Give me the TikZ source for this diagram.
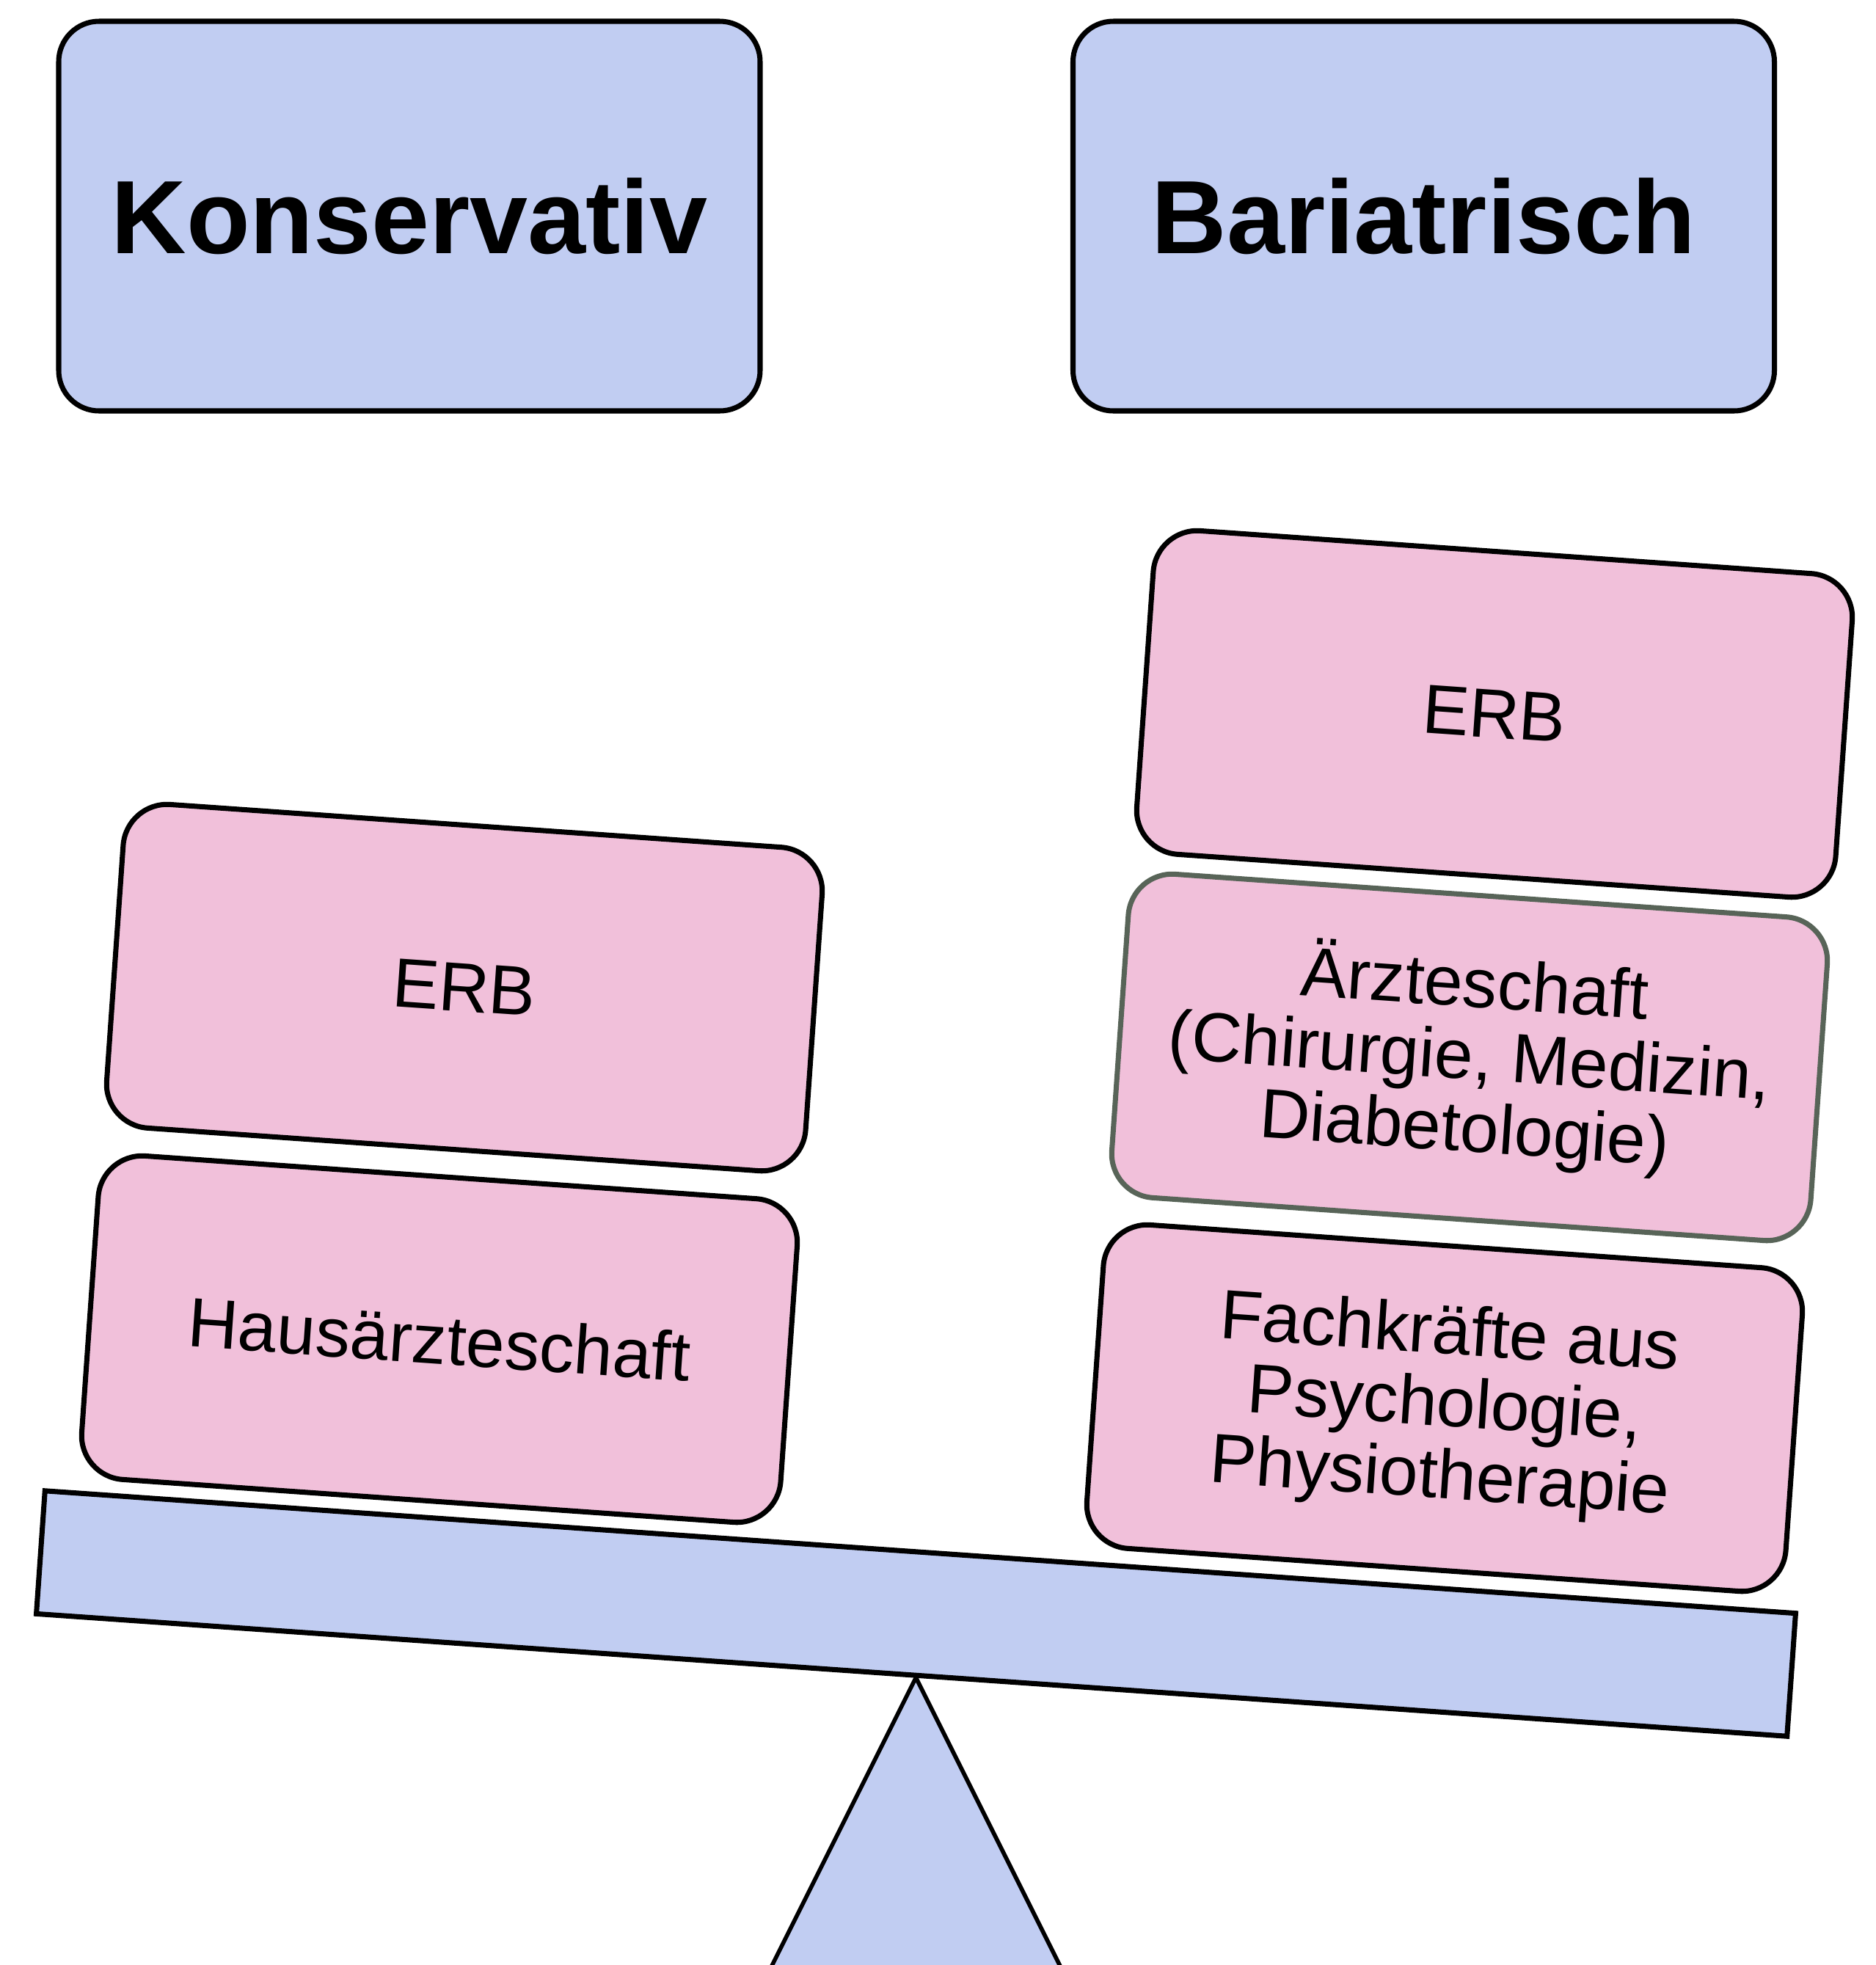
\documentclass[tikz,border=0pt]{standalone}
\usepackage{fontspec}
\setmainfont{Liberation Sans}
\usepackage{xcolor}
\usepackage{tikz}
\definecolor{beamblue}{RGB}{193,205,242}
\definecolor{boxpink}{RGB}{241,192,218}
\definecolor{edgegray}{RGB}{88,100,88}

\begin{document}
\begin{tikzpicture}[
  headbox/.style={draw,line width=2pt,fill=beamblue,rounded corners=0.55cm,
    minimum width=9.56cm,minimum height=5.31cm,inner sep=0pt,
    font=\fontsize{40.4}{48}\selectfont\bfseries},
  stackbox/.style={draw,line width=2pt,fill=boxpink,rounded corners=0.6cm,
    minimum width=9.55cm,minimum height=4.42cm,inner sep=0pt,rotate=-4,
    align=center,font=\fontsize{27}{28}\selectfont}]
\useasboundingbox (0,0) rectangle (25.56,-26.78);
\clip (0,0) rectangle (25.56,-26.78);

\node[headbox] (kons) at (5.58,-2.945) {Konservativ};
\node[headbox] (bari) at (19.405,-2.945) {Bariatrisch};

\node[stackbox] (erbl) at (6.33,-13.46) {ERB};
\node[stackbox] (haus) at (5.99,-18.25) {Hausärzteschaft};

\node[stackbox] (erbr) at (20.37,-9.73) {ERB};
\node[stackbox,draw=edgegray] (aerzte) at (20.03,-14.41)
  {Ärzteschaft\\(Chirurgie, Medizin,\\Diabetologie)};
\node[stackbox] (fach) at (19.69,-19.19)
  {Fachkräfte aus\\Psychologie,\\Physiotherapie};

\node[draw,line width=2pt,fill=beamblue,minimum width=23.92cm,
  minimum height=1.68cm,inner sep=0pt,rotate=-4] (beam) at (12.485,-21.99) {};
\draw[line width=1.6pt,fill=beamblue,line join=miter]
  ([xshift=0.6mm]beam.south) -- ++(-2.6,-5.2) -- ++(5.2,0) -- cycle;
\end{tikzpicture}
\end{document}
